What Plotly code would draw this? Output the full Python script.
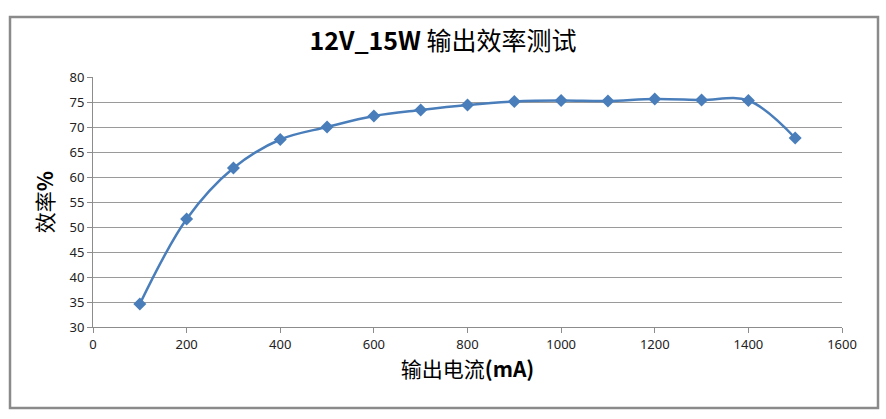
import plotly.graph_objects as go

current_ma = [100, 200, 300, 400, 500, 600, 700, 800, 900, 1000, 1100, 1200, 1300, 1400, 1500]
efficiency = [34.6, 51.6, 61.8, 67.5, 70.0, 72.2, 73.4, 74.4, 75.1, 75.3, 75.2, 75.6, 75.4, 75.3, 67.8]

title_latin = "12V_15W"
title_cjk = "输出效率测试"
x_title_cjk = "输出电流"
x_title_unit = "(mA)"
y_title_cjk = "效率"
y_title_unit = "%"

BLUE = "#4a7ebb"
CJK = "Liberation Sans Narrow, Noto Sans CJK SC, sans-serif"
TICKF = "Liberation Sans Narrow, Noto Sans, sans-serif"

fig = go.Figure()
fig.add_trace(go.Scatter(
    x=current_ma, y=efficiency, mode="lines+markers",
    line=dict(color=BLUE, width=2.5, shape="spline", smoothing=1.0),
    marker=dict(symbol="diamond", size=10, color=BLUE),
    showlegend=False, hoverinfo="x+y",
))

L, R, T, B = 93, 44, 77, 92
W, H = 886, 419
pw, ph = W - L - R, H - T - B

def px_to_paper_x(px):
    return (px - L) / pw

def px_to_paper_y(py):
    return (H - B - py) / ph

fig.add_shape(type="rect", xref="paper", yref="paper",
              x0=px_to_paper_x(10), x1=px_to_paper_x(878),
              y0=px_to_paper_y(408), y1=px_to_paper_y(17),
              line=dict(color="#8a8a8a", width=2.5), fillcolor="rgba(0,0,0,0)", layer="below")

fig.update_layout(
    width=W, height=H,
    margin=dict(l=L, r=R, t=T, b=B),
    paper_bgcolor="white", plot_bgcolor="white",
    title=dict(text=f"<b>{title_latin}</b> {title_cjk}", x=px_to_paper_x(443), xref="paper", xanchor="center",
               y=1 - 41 / H, yanchor="middle",
               font=dict(family=CJK, size=25, color="black")),
    xaxis=dict(range=[0, 1600], tickvals=list(range(0, 1601, 200)),
               showgrid=False, showline=True, linecolor="#8c8c8c", linewidth=1,
               ticks="outside", ticklen=5, tickcolor="#8c8c8c",
               tickfont=dict(family=TICKF, size=13, color="#222"),
               title=dict(text=f"{x_title_cjk}<b>{x_title_unit}</b>", font=dict(family=CJK, size=21, color="black"), standoff=10),
               zeroline=False, fixedrange=True),
    yaxis=dict(range=[30, 80], tickvals=list(range(30, 81, 5)),
               showgrid=True, gridcolor="#9a9a9a", gridwidth=1,
               showline=True, linecolor="#8c8c8c", linewidth=1,
               ticks="outside", ticklen=5, tickcolor="#8c8c8c",
               tickfont=dict(family=TICKF, size=13, color="#222"),
               title=dict(text=f"{y_title_cjk}<b>{y_title_unit}</b>", font=dict(family=CJK, size=21, color="black"), standoff=10),
               zeroline=False, fixedrange=True),
)

fig.write_html("out.html")
